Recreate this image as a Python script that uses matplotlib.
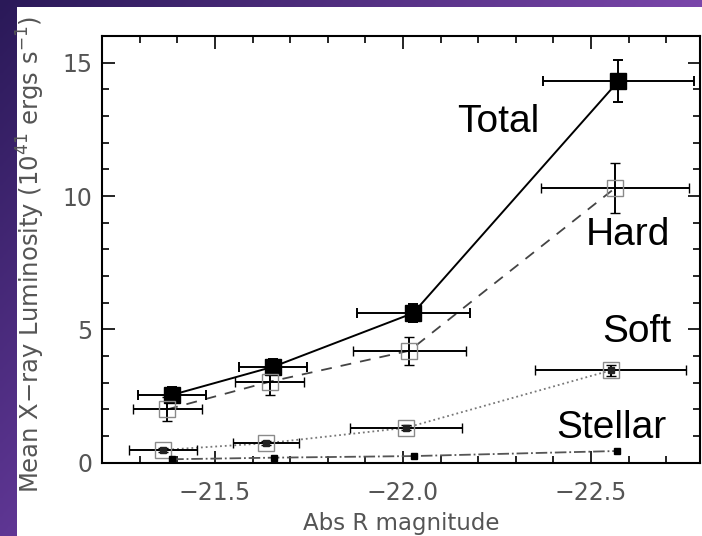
import numpy as np
import matplotlib
matplotlib.use("Agg")
import matplotlib.pyplot as plt
from matplotlib.patches import Rectangle
from matplotlib.ticker import MultipleLocator

# ── data ────────────────────────────────────────────────────────────
total_mag = [-21.385, -21.655, -22.027, -22.573]
total_lum = [2.54, 3.60, 5.61, 14.31]
total_xerr = [0.090, 0.090, 0.150, 0.200]
total_yerr = [0.30, 0.30, 0.35, 0.80]

hard_mag = [-21.373, -21.646, -22.017, -22.564]
hard_lum = [2.00, 3.04, 4.20, 10.30]
hard_xerr = [0.092, 0.092, 0.150, 0.196]
hard_yerr = [0.45, 0.50, 0.52, 0.94]

soft_mag = [-21.361, -21.636, -22.008, -22.552]
soft_lum = [0.48, 0.73, 1.31, 3.46]
soft_xerr = [0.090, 0.087, 0.148, 0.200]
soft_yerr = [0.08, 0.08, 0.10, 0.20]

stellar_mag = [-21.386, -21.657, -22.028, -22.570]
stellar_lum = [0.13, 0.19, 0.25, 0.44]

x_ticks = [-21.5, -22.0, -22.5]
y_ticks = [0, 5, 10, 15]

W, H = 702, 536
fig = plt.figure(figsize=(W / 100, H / 100), dpi=100)

# slide background: purple gradient strips on top and left
bg = fig.add_axes([0, 0, 1, 1], zorder=-10)
gx, gy = np.meshgrid(np.linspace(0, 1, 200), np.linspace(0, 1, 200))
c_tl = np.array([0x2a, 0x19, 0x58]) / 255
c_tr = np.array([0x7a, 0x46, 0xaa]) / 255
c_bl = np.array([0x5e, 0x36, 0x93]) / 255
grad = (c_tl[None, None, :]
        + (c_tr - c_tl)[None, None, :] * gx[..., None]
        + (c_bl - c_tl)[None, None, :] * gy[..., None])
bg.imshow(np.clip(grad, 0, 1), extent=[0, 1, 0, 1], origin="upper", aspect="auto")
bg.add_patch(Rectangle((17 / W, 0), 1, 1 - 7 / H, facecolor="white", edgecolor="none"))
bg.set_xlim(0, 1)
bg.set_ylim(0, 1)
bg.axis("off")

ax = fig.add_axes([0.1456, 0.1367, 0.8516, 0.7961])

ebkw = dict(ecolor="black", elinewidth=1.4, capsize=3.5, capthick=1.4)

# Total: filled squares, solid line
ax.plot(total_mag, total_lum, "-", color="black", lw=1.4, zorder=3)
ax.errorbar(total_mag, total_lum, xerr=total_xerr, yerr=total_yerr, fmt="s",
            ms=12, mfc="black", mec="black", zorder=4, **ebkw)

# Hard: open squares, dashed line
ax.plot(hard_mag, hard_lum, "--", color="#444444", lw=1.3, dashes=(6, 5), zorder=3)
ax.errorbar(hard_mag, hard_lum, xerr=hard_xerr, yerr=hard_yerr, fmt="s",
            ms=11, mfc="none", mec="#8a8a8a", mew=1.0, zorder=4, **ebkw)

# Soft: open squares with dot, dotted line
ax.plot(soft_mag, soft_lum, ":", color="#777777", lw=1.3, zorder=3)
ax.errorbar(soft_mag, soft_lum, xerr=soft_xerr, yerr=soft_yerr, fmt="s",
            ms=12, mfc="none", mec="#8a8a8a", mew=1.0, zorder=4, **ebkw)
ax.plot(soft_mag, soft_lum, "s", ms=4, color="#222222", zorder=5)

# Stellar: small dots, dash-dot line
ax.plot(stellar_mag, stellar_lum, "-.", color="#555555", lw=1.3, zorder=3)
ax.plot(stellar_mag, stellar_lum, "s", ms=4, color="black", zorder=5)

ax.set_xlim(-21.2, -22.79)
ax.set_ylim(0, 16)
ax.set_xticks(x_ticks)
ax.set_xticklabels([f"\u2212{abs(v):.1f}" for v in x_ticks])
ax.set_yticks(y_ticks)
ax.xaxis.set_minor_locator(MultipleLocator(0.1))
ax.yaxis.set_minor_locator(MultipleLocator(1))
ax.tick_params(which="both", direction="in", top=True, right=True,
               width=1.2, colors="black", labelcolor="#555555", labelsize=17)
ax.tick_params(which="major", length=9)
ax.tick_params(which="minor", length=5)
ax.tick_params(axis="x", pad=13)
ax.tick_params(axis="y", pad=7)
for s in ax.spines.values():
    s.set_linewidth(1.5)

# axis titles
fig.text(401 / W, 1 - 530 / H, "Abs R magnitude", ha="center", va="baseline",
         fontsize=16.5, color="#555555")
fig.text(31 / W, 1 - 254 / H,
         "Mean X\u2212ray Luminosity (10$^{41}$ ergs s$^{-1}$)",
         rotation=90, ha="center", va="center", fontsize=17.5, color="#555555")

lab_kw = dict(fontsize=28, family="Liberation Sans", color="black",
              ha="center", va="center")
ax.text(-22.254, 12.76, "Total", **lab_kw)
ax.text(-22.597, 8.55, "Hard", **lab_kw)
ax.text(-22.621, 4.91, "Soft", **lab_kw)
ax.text(-22.553, 1.30, "Stellar", **lab_kw)

fig.savefig("out.png", dpi=100)
